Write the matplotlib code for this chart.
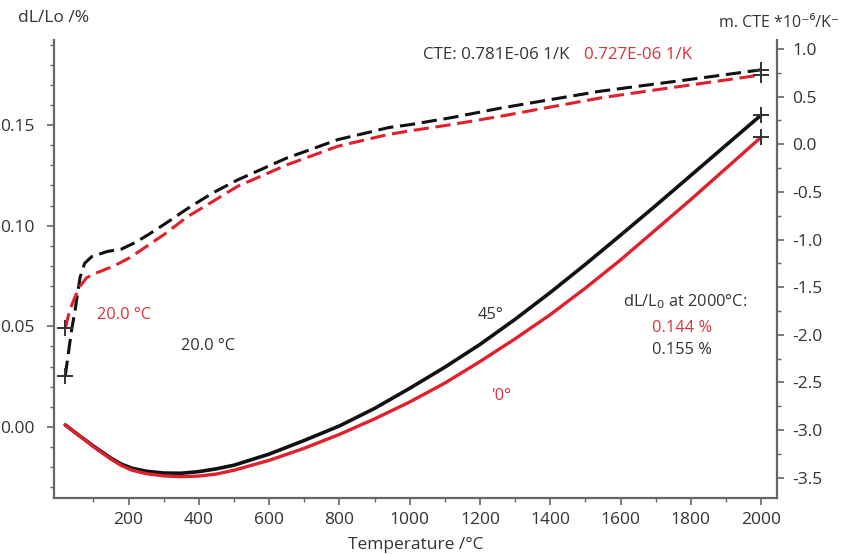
import matplotlib
matplotlib.use("Agg")
import matplotlib.pyplot as plt
from matplotlib.ticker import FixedLocator, FormatStrFormatter

plt.rcParams['font.family'] = ['Open Sans', 'DejaVu Sans']
plt.rcParams['axes.unicode_minus'] = False

# ---- data ----
# dL/Lo (%) solid curves, left axis
t_dl_45 = [20, 50, 100, 150, 180, 210, 250, 300, 350, 400, 450, 500, 600, 700,
           800, 900, 1000, 1100, 1200, 1300, 1400, 1500, 1600, 1700, 1800, 1900,
           2000]
dl_45 = [0.001, -0.003, -0.0095, -0.0155, -0.0185, -0.0205, -0.0220, -0.0229,
         -0.0230, -0.0222, -0.0208, -0.0190, -0.0135, -0.0067, 0.0005, 0.0092,
         0.0192, 0.0297, 0.0410, 0.0535, 0.0668, 0.0808, 0.0953, 0.1100, 0.1250,
         0.1400, 0.1550]

t_dl_0 = [20, 50, 100, 150, 180, 210, 250, 300, 350, 400, 450, 500, 600, 700,
          800, 900, 1000, 1100, 1200, 1300, 1400, 1500, 1600, 1700, 1800, 1900,
          2000]
dl_0 = [0.001, -0.003, -0.0098, -0.0160, -0.0192, -0.0215, -0.0232, -0.0243,
        -0.0247, -0.0244, -0.0234, -0.0215, -0.0166, -0.0106, -0.0037, 0.0040,
        0.0124, 0.0218, 0.0325, 0.0438, 0.0558, 0.0690, 0.0830, 0.0980, 0.1130,
        0.1285, 0.1440]

# mean CTE (1e-6/K) dashed curves, right axis
t_cte_45 = [20, 29, 38, 48, 62, 75, 95, 140, 180, 220, 260, 310, 370, 440, 510,
            580, 650, 720, 795, 870, 940, 1000, 1120, 1260, 1400, 1540, 1680,
            1830, 2000]
cte_45 = [-2.43, -2.19, -1.95, -1.74, -1.40, -1.25, -1.18, -1.125, -1.10, -1.03,
          -0.94, -0.82, -0.67, -0.51, -0.375, -0.26, -0.145, -0.053, 0.048, 0.113,
          0.175, 0.205, 0.28, 0.38, 0.468, 0.555, 0.623, 0.696, 0.781]

t_cte_0 = [20, 33, 48, 62, 81, 109, 157, 204, 252, 300, 368, 440, 510, 580, 652,
           720, 795, 870, 937, 1000, 1118, 1258, 1400, 1543, 1680, 1828, 2000]
cte_0 = [-1.93, -1.74, -1.60, -1.49, -1.40, -1.35, -1.28, -1.19, -1.07, -0.95,
         -0.76, -0.60, -0.442, -0.33, -0.214, -0.123, -0.022, 0.043, 0.101, 0.14,
         0.206, 0.293, 0.39, 0.486, 0.56, 0.637, 0.727]

x_ticks = [200, 400, 600, 800, 1000, 1200, 1400, 1600, 1800, 2000]
left_ticks = [0.00, 0.05, 0.10, 0.15]
right_ticks = [1.0, 0.5, 0.0, -0.5, -1.0, -1.5, -2.0, -2.5, -3.0, -3.5]

BLACK = '#111111'
RED = '#e0202b'
TXT = '#333333'
TRED = '#d8323c'
SPINE = '#666666'

W, H = 848, 554
fig = plt.figure(figsize=(W / 100, H / 100), dpi=100)
L, R, B, T = 54, 777, 498, 39.5
ax = fig.add_axes([L / W, 1 - B / H, (R - L) / W, (B - T) / H])
ax2 = ax.twinx()

ax.plot(t_dl_45, dl_45, color=BLACK, lw=2.6, solid_capstyle='round')
ax.plot(t_dl_0, dl_0, color=RED, lw=2.4, solid_capstyle='round')
ax2.plot(t_cte_45, cte_45, color=BLACK, lw=2.2, dashes=(5, 2.2))
ax2.plot(t_cte_0, cte_0, color=RED, lw=2.2, dashes=(5, 2.2))

# cross markers at curve ends
mk = dict(ls='none', marker='+', ms=12, mew=1.4, color='#333333')
ax.plot([t_dl_45[-1]], [dl_45[-1]], **mk)
ax.plot([t_dl_0[-1]], [dl_0[-1]], **mk)
ax2.plot([t_cte_45[0], t_cte_45[-1]], [cte_45[0], cte_45[-1]], **mk)
ax2.plot([t_cte_0[0], t_cte_0[-1]], [cte_0[0], cte_0[-1]], **mk)

ax.set_xlim(-12, 2045)
ax.set_ylim(-0.0353, 0.1925)
ax2.set_ylim(-3.712, 1.099)

ax.xaxis.set_major_locator(FixedLocator(x_ticks))
ax.xaxis.set_minor_locator(FixedLocator(list(range(100, 2000, 200))))
ax.yaxis.set_major_locator(FixedLocator(left_ticks))
ax.yaxis.set_minor_locator(FixedLocator([i / 100 for i in range(-3, 20)]))
ax.yaxis.set_major_formatter(FormatStrFormatter('%.2f'))
ax2.yaxis.set_major_locator(FixedLocator(right_ticks))
ax2.yaxis.set_minor_locator(FixedLocator([-3.75 + 0.25 * i for i in range(20)]))
ax2.yaxis.set_major_formatter(FormatStrFormatter('%.1f'))

for a in (ax, ax2):
    a.spines['top'].set_visible(False)
    for s in ('left', 'right', 'bottom'):
        a.spines[s].set_color(SPINE)
        a.spines[s].set_linewidth(1.6)
    a.tick_params(which='major', length=5, width=1.2, color=SPINE,
                  labelsize=12.5, labelcolor=TXT, direction='out')
    a.tick_params(which='minor', length=3, width=1.0, color=SPINE, direction='out')
ax.tick_params(axis='y', pad=9)
ax2.tick_params(axis='y', pad=6)
ax.tick_params(axis='x', pad=5)
ax2.spines['left'].set_visible(False)
ax2.spines['bottom'].set_visible(False)
ax.spines['right'].set_visible(False)


def ftext(x, y, s, **kw):
    kw.setdefault('fontsize', 11.8)
    kw.setdefault('color', TXT)
    kw.setdefault('va', 'center')
    fig.text(x / W, 1 - y / H, s, **kw)


ftext(415.5, 545, 'Temperature /°C', fontsize=12.5, ha='center')
ftext(18, 18, 'dL/Lo /%', fontsize=12.5)
ftext(719, 23, 'm. CTE *10⁻⁶/K⁻', fontsize=11.5)
ftext(423, 55, 'CTE: 0.781E-06 1/K', fontsize=12.2)
ftext(584, 55, '0.727E-06 1/K', color=TRED, fontsize=12.2)
ftext(97, 315, '20.0 °C', color=TRED, fontsize=11.8)
ftext(181, 346, '20.0 °C', fontsize=11.8)
ftext(478, 315, '45°')
ftext(492, 396, "'0°", color=TRED)
ftext(623, 302, 'dL/L$_0$ at 2000°C:')
ftext(652, 328, '0.144 %', color=TRED)
ftext(652, 350, '0.155 %')

fig.savefig('out.png', dpi=100)
